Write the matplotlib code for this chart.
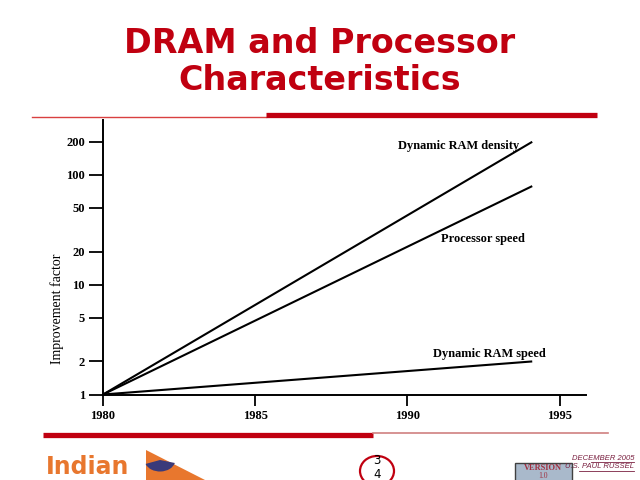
import matplotlib
matplotlib.use('Agg')
import matplotlib.pyplot as plt
import matplotlib.patches as mpatches
from matplotlib.lines import Line2D

# data
years = [1980, 1994.1]
dram_density = [1, 200]
processor_speed = [1, 79]
dram_speed = [1, 2.0]

series_labels = ['Dynamic RAM density', 'Processor speed', 'Dynamic RAM speed']
label_pos = [(1989.7, 184), (1991.1, 26.2), (1990.85, 2.36)]

yticks = [1, 2, 5, 10, 20, 50, 100, 200]
xticks = [1980, 1985, 1990, 1995]

RED = '#C00010'
W, H = 640, 480


def fx(x):
    return x / W


def fy(y):
    return 1 - y / H


fig = plt.figure(figsize=(6.4, 4.8), dpi=100)

# title
fig.text(fx(320), fy(62), 'DRAM and Processor\nCharacteristics', ha='center', va='center',
         color=RED, fontsize=24, fontweight='bold', family='DejaVu Sans', linespacing=1.12)

# header rules
fig.add_artist(Line2D([fx(32), fx(266)], [fy(117), fy(117)], color='#D94040', lw=1.0))
fig.add_artist(Line2D([fx(266), fx(597)], [fy(114.5), fy(114.5)], color=RED, lw=3.8,
                      solid_capstyle='butt'))

# chart
ax = fig.add_axes([fx(103), fy(394.5), (585.5 - 103) / W, (394.5 - 120) / H])
ax.set_yscale('log')
ax.set_xlim(1980, 1995.85)
ax.set_ylim(1, 316)

serif = 'Liberation Serif'
for vals in (dram_density, processor_speed, dram_speed):
    ax.plot(years, vals, color='black', lw=1.5, solid_capstyle='butt', clip_on=False)

for txt, (x, y) in zip(series_labels, label_pos):
    ax.text(x, y, txt, ha='left', va='center', fontsize=8.9, fontweight='bold', family=serif)

ax.set_yticks(yticks)
ax.set_yticklabels([str(v) for v in yticks])
ax.yaxis.set_minor_locator(matplotlib.ticker.NullLocator())
ax.set_xticks(xticks)
ax.set_xticklabels([str(v) for v in xticks])
for lab in ax.get_xticklabels() + ax.get_yticklabels():
    lab.set_family(serif)
    lab.set_fontweight('bold')
    lab.set_fontsize(9)
ax.tick_params(axis='y', length=10, width=1.3, pad=3, direction='out')
ax.tick_params(axis='x', length=8, width=1.3, pad=3.5, direction='out')
for s in ('top', 'right'):
    ax.spines[s].set_visible(False)
for s in ('left', 'bottom'):
    ax.spines[s].set_linewidth(1.4)

ax.text(-0.095, 0.313, 'Improvement factor', transform=ax.transAxes, rotation=90,
        ha='center', va='center', fontsize=10, family=serif)

# footer rules
fig.add_artist(Line2D([fx(43), fx(373)], [fy(434.7), fy(434.7)], color=RED, lw=3.8,
                      solid_capstyle='butt'))
fig.add_artist(Line2D([fx(373), fx(608)], [fy(432.5), fy(432.5)], color='#D08080', lw=1.2))

# logo
ORANGE = '#E8772E'
fig.add_artist(mpatches.Polygon([(fx(146), fy(450)), (fx(205), fy(480)), (fx(146), fy(480))],
                                closed=True, transform=fig.transFigure, color=ORANGE, lw=0))
fig.add_artist(mpatches.Wedge((fx(160), fy(460)), 0.024, 200, 345, transform=fig.transFigure,
                              color='#3A3A7A', lw=0))
fig.text(fx(46), fy(474.5), 'Indian', ha='left', va='baseline', color=ORANGE,
         fontsize=17, fontweight='bold', family='DejaVu Sans')

# page number
fig.add_artist(mpatches.Ellipse((fx(377), fy(471)), 34 / W, 30 / H, transform=fig.transFigure,
                                fill=False, edgecolor=RED, lw=1.6))
fig.text(fx(377), fy(460), '3', ha='center', va='center', fontsize=8.5, family='DejaVu Sans')
fig.text(fx(377), fy(474), '4', ha='center', va='center', fontsize=8.5, family='DejaVu Sans')

# version box
fig.add_artist(mpatches.Rectangle((fx(515), fy(482)), 57 / W, 19 / H, transform=fig.transFigure,
                                  facecolor='#A9B9CB', edgecolor='#404040', lw=1.0))
fig.text(fx(543), fy(468), 'VERSION', ha='center', va='center', fontsize=6, color='#A03040',
         family=serif, fontweight='bold')
fig.text(fx(543), fy(475.5), '1.0', ha='center', va='center', fontsize=5.5, color='#A03040',
         family=serif)

# date / author
for txt, y in (('DECEMBER 2005', 458), ('U.S. PAUL RUSSEL', 467)):
    fig.text(fx(634), fy(y), txt, ha='right', va='center', fontsize=5.5, color='#7A2040',
             style='italic', family='Liberation Sans')
fig.add_artist(Line2D([fx(591), fx(634)], [fy(462), fy(462)], color='#7A2040', lw=0.6))
fig.add_artist(Line2D([fx(579), fx(634)], [fy(471), fy(471)], color='#7A2040', lw=0.6))

fig.savefig('out.png', dpi=100)
